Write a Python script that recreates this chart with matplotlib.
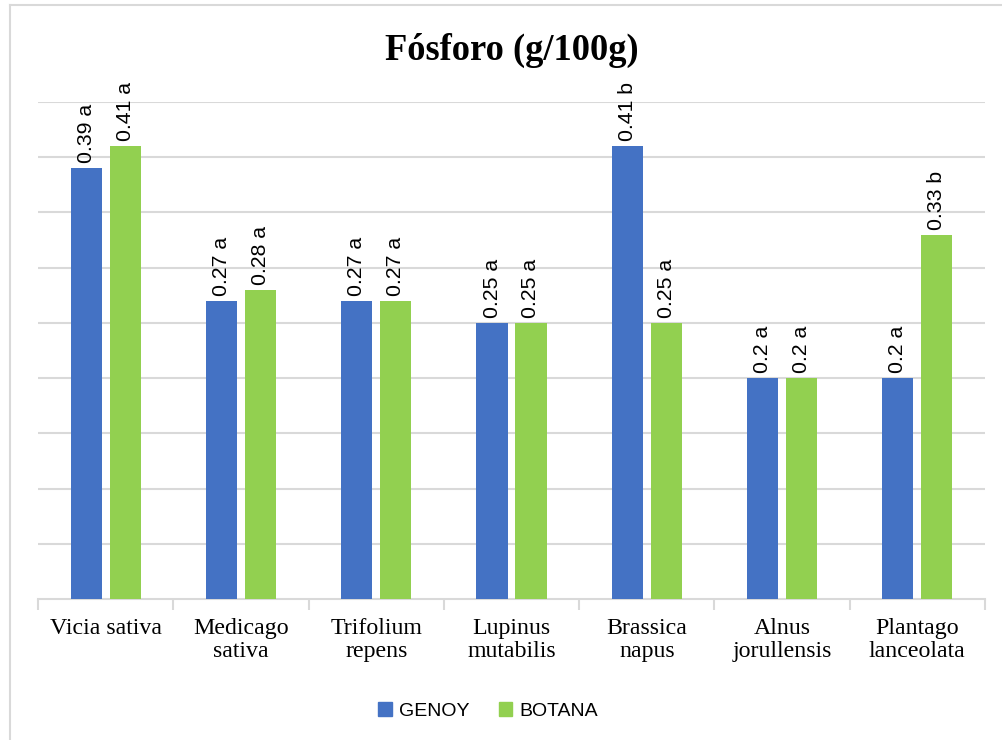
import matplotlib.pyplot as plt
import numpy as np
from matplotlib.patches import Patch

categories = ["Vicia sativa", "Medicago\nsativa", "Trifolium\nrepens", "Lupinus\nmutabilis",
              "Brassica\nnapus", "Alnus\njorullensis", "Plantago\nlanceolata"]
genoy = [0.39, 0.27, 0.27, 0.25, 0.41, 0.2, 0.2]
botana = [0.41, 0.28, 0.27, 0.25, 0.25, 0.2, 0.33]
genoy_letters = ["a", "a", "a", "a", "b", "a", "a"]
botana_letters = ["a", "a", "a", "a", "a", "a", "b"]

BLUE = "#4472C4"
GREEN = "#92D050"
GRID = "#d9d9d9"

fig = plt.figure(figsize=(10.02, 7.4), dpi=100)
ax = fig.add_axes([38 / 1002, 1 - 599 / 740, (985 - 38) / 1002, (599 - 102) / 740])

x = np.arange(len(categories))
width = 0.23
offset = 0.144

bars_g = ax.bar(x - offset, genoy, width, color=BLUE, zorder=3)
bars_b = ax.bar(x + offset, botana, width, color=GREEN, zorder=3)

for bars, vals, letters in [(bars_g, genoy, genoy_letters), (bars_b, botana, botana_letters)]:
    for b, v, l in zip(bars, vals, letters):
        ax.annotate(f"{v:g} {l}", (b.get_x() + b.get_width() / 2, v),
                    xytext=(0, 3.5), textcoords="offset points",
                    rotation=90, ha="center", va="bottom",
                    fontsize=15.3, family="Liberation Sans", color="black")

ax.set_xlim(-0.5, len(categories) - 0.5)
ax.set_ylim(0, 0.45)
ax.set_yticks(np.arange(0.05, 0.451, 0.05))
ax.tick_params(axis="y", length=0, labelleft=False)
ax.yaxis.grid(True, color=GRID, linewidth=1.5, zorder=0)

ax.set_xticks(x)
ax.set_xticklabels(categories, family="Liberation Serif", fontsize=17.2, linespacing=1.12)
ax.tick_params(axis="x", length=0, pad=14)
ax.set_xticks(np.arange(-0.5, len(categories), 1), minor=True)
ax.tick_params(axis="x", which="minor", length=8, width=1.5, color=GRID)

for s in ["top", "right", "left"]:
    ax.spines[s].set_visible(False)
ax.spines["bottom"].set_color(GRID)
ax.spines["bottom"].set_linewidth(1.5)

fig.text(512 / 1002, 1 - 50 / 740, "Fósforo (g/100g)", ha="center", va="center",
         family="Liberation Serif", fontweight="bold", fontsize=26.3)

handles = [Patch(color=BLUE, label="GENOY"), Patch(color=GREEN, label="BOTANA")]
fig.legend(handles=handles, loc="center", bbox_to_anchor=(488 / 1002, 1 - 711 / 740),
           ncol=2, frameon=False, prop={"family": "Liberation Sans", "size": 14},
           handlelength=0.7, handleheight=0.7, handletextpad=0.35, columnspacing=1.5)

# chart border (left and top edges visible)
fig.add_artist(plt.Line2D([10 / 1002, 10 / 1002], [0, 1 - 5 / 740], color=GRID,
                          linewidth=1.5, transform=fig.transFigure))
fig.add_artist(plt.Line2D([10 / 1002, 1], [1 - 5 / 740, 1 - 5 / 740], color=GRID,
                          linewidth=1.5, transform=fig.transFigure))

fig.savefig("out.png", dpi=100)
